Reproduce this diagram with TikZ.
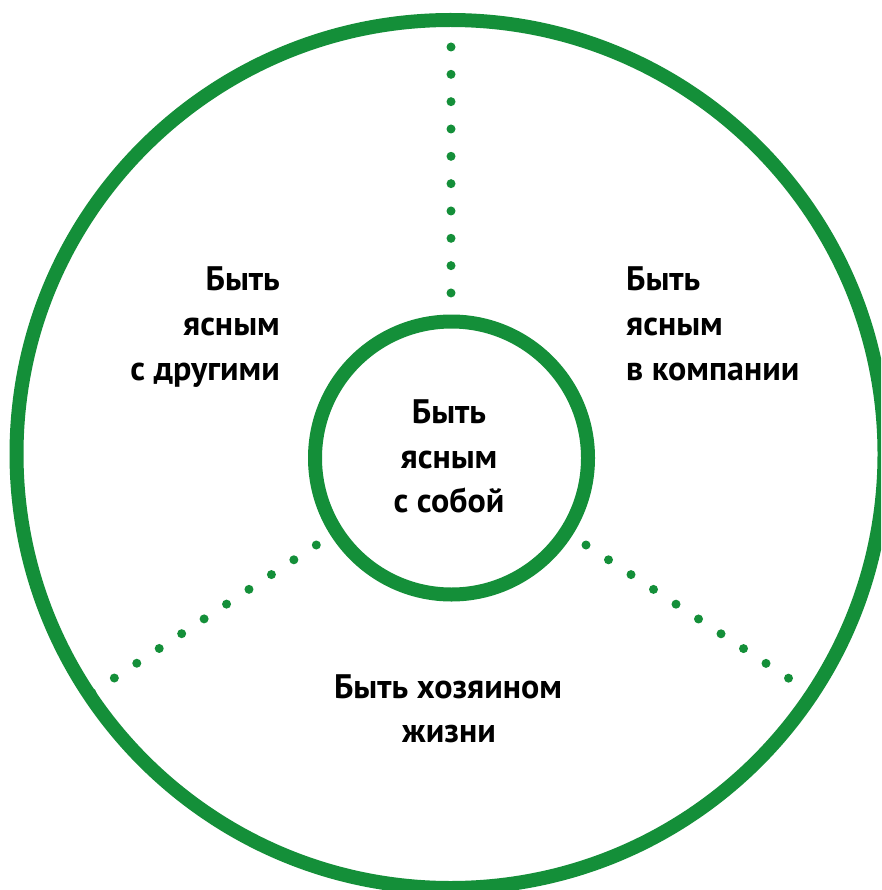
\documentclass[tikz,border=0pt]{standalone}
\usepackage{fontspec}
\setmainfont{PT Sans}
\definecolor{cgreen}{RGB}{20,143,57}
\begin{document}
\begin{tikzpicture}[x=1pt,y=-1pt,
  ring/.style={circle, draw=cgreen, line width=14pt, inner sep=0pt, outer sep=0pt},
  dotline/.style={draw=cgreen, line width=9pt, line cap=round, dash pattern=on 0pt off #1},
  lbl/.style={font=\fontsize{34}{45}\selectfont\bfseries, inner sep=0pt, text=black}]
\useasboundingbox (0,0) rectangle (881,890);
\clip (0,0) rectangle (881,890);
\fill[white] (0,0) rectangle (881,890);
% dotted connectors
\coordinate (t1) at (451,47);
\coordinate (t2) at (451,321);
\coordinate (l1) at (316.3,545);
\coordinate (l2) at (91.6,693);
\coordinate (r1) at (586,545);
\coordinate (r2) at (810.9,692.9);
\draw[dotline=27.33pt] (t1) -- (t2);
\draw[dotline=26.87pt] (l1) -- (l2);
\draw[dotline=26.93pt] (r1) -- (r2);
% circles
\node[ring, minimum size=868pt] (outer) at (450.5,454) {};
\node[ring, minimum size=273pt] (inner) at (451.5,458) {};
% center text
\node[lbl, anchor=base] (c1) at (449,423) {Быть};
\node[lbl, anchor=base] (c2) at (449,468) {ясным};
\node[lbl, anchor=base] (c3) at (449,512) {с собой};
% left text
\node[lbl, anchor=base east] (a1) at (280,290) {Быть};
\node[lbl, anchor=base east] (a2) at (280,335) {ясным};
\node[lbl, anchor=base east] (a3) at (280,380) {с другими};
% right text
\node[lbl, anchor=base west] (b1) at (626,290) {Быть};
\node[lbl, anchor=base west] (b2) at (626,335) {ясным};
\node[lbl, anchor=base west] (b3) at (626,380) {в компании};
% bottom text
\node[lbl, anchor=base] (d1) at (448,698) {Быть хозяином};
\node[lbl, anchor=base] (d2) at (449,742) {жизни};
\end{tikzpicture}
\end{document}
